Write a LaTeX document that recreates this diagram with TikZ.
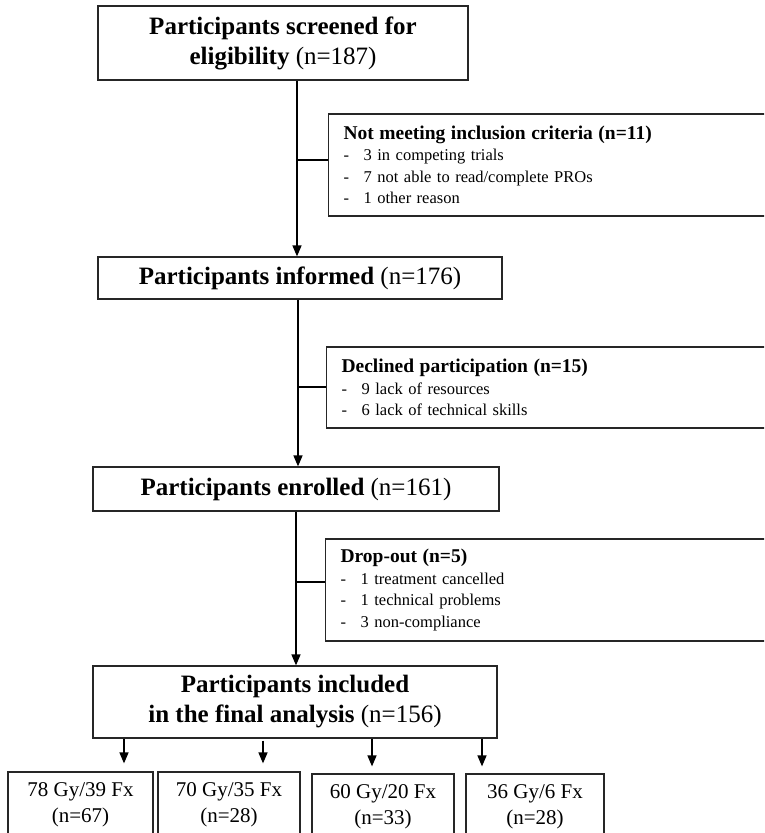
\documentclass[tikz,border=0pt]{standalone}
\usepackage{fontspec}
\setmainfont{Liberation Serif}
\usetikzlibrary{arrows.meta,calc}

% one item line in a side box: a dash, then the reason
\newcommand{\reason}[1]{\makebox[20pt][l]{-}#1}
% heading line of a side box
\newcommand{\sidehead}[1]{{\fontsize{19.5pt}{21.5pt}\selectfont\bfseries #1}}

\tikzset{
  box/.style={draw=black!85, line width=1.2pt, align=center, inner sep=0pt},
  stagebox/.style={box, font=\fontsize{25pt}{30pt}\selectfont},
  sidebox/.style={draw=black!85, line width=1.2pt, anchor=west, align=left,
    text width=440pt, inner xsep=15pt, inner ysep=0pt,
    font=\fontsize{16.5pt}{21.5pt}\selectfont},
  armbox/.style={box, font=\fontsize{21pt}{26pt}\selectfont},
  flow/.style={line width=1.5pt, -{Triangle[length=11pt,width=9pt]}},
  link/.style={line width=1.5pt},
}

\begin{document}
\begin{tikzpicture}[x=1pt,y=-1pt]
\useasboundingbox (0,0) rectangle (764,833);
\clip (0,0) rectangle (764,833);

% main stages
\node[stagebox, minimum width=370pt, minimum height=74pt] (screen) at (283,43)
  {\textbf{Participants screened for}\\\textbf{eligibility} (n=187)};
\node[stagebox, minimum width=404pt, minimum height=42pt] (inform) at (300,278)
  {\textbf{Participants informed} (n=176)};
\node[stagebox, minimum width=406pt, minimum height=44pt] (enrol) at (296,489)
  {\textbf{Participants enrolled} (n=161)};
\node[stagebox, minimum width=404pt, minimum height=72pt] (final) at (295,702)
  {\textbf{Participants included}\\\textbf{in the final analysis} (n=156)};

% exclusions
\node[sidebox, minimum height=102pt] (excl) at (328,165)
  {\sidehead{Not meeting inclusion criteria (n=11)}\\
   \reason{3 in competing trials}\\
   \reason{7 not able to read/complete PROs}\\
   \reason{1 other reason}};
\node[sidebox, minimum height=81pt] (decl) at (326,387.5)
  {\sidehead{Declined participation (n=15)}\\
   \reason{9 lack of resources}\\
   \reason{6 lack of technical skills}};
\node[sidebox, minimum height=102pt] (drop) at (325,590)
  {\sidehead{Drop-out (n=5)}\\
   \reason{1 treatment cancelled}\\
   \reason{1 technical problems}\\
   \reason{3 non-compliance}};

% treatment arms
\node[armbox, minimum width=145pt, minimum height=66pt] (arm1) at (80.5,805)
  {78 Gy/39 Fx\\(n=67)};
\node[armbox, minimum width=142pt, minimum height=66pt] (arm2) at (229,805)
  {70 Gy/35 Fx\\(n=28)};
\node[armbox, minimum width=142pt, minimum height=66pt] (arm3) at (383,807)
  {60 Gy/20 Fx\\(n=33)};
\node[armbox, minimum width=138pt, minimum height=66pt] (arm4) at (535,807)
  {36 Gy/6 Fx\\(n=28)};

% spine of the flow
\coordinate (s1) at (297,0);
\coordinate (s2) at (298,0);
\coordinate (s3) at (296,0);
\draw[flow] (screen.south -| s1) -- (inform.north -| s1);
\draw[flow] (inform.south -| s2) -- (enrol.north -| s2);
\draw[flow] (enrol.south -| s3) -- (final.north -| s3);

% branches to the side boxes
\coordinate (j1) at (297,160);
\coordinate (j2) at (298,387);
\coordinate (j3) at (296,582);
\draw[link] (j1) -- (j1 -| excl.west);
\draw[link] (j2) -- (j2 -| decl.west);
\draw[link] (j3) -- (j3 -| drop.west);

% arrows to the arms
\coordinate (a1) at (124,0);
\coordinate (a2) at (263,0);
\coordinate (a3) at (372,0);
\coordinate (a4) at (482,0);
\draw[flow, shorten >=8pt] (final.south -| a1) -- (arm1.north -| a1);
\draw[flow, shorten >=8pt, shorten <=2pt] (final.south -| a2) -- (arm2.north -| a2);
\draw[flow, shorten >=7pt] (final.south -| a3) -- (arm3.north -| a3);
\draw[flow, shorten >=7pt] (final.south -| a4) -- (arm4.north -| a4);
\end{tikzpicture}
\end{document}
